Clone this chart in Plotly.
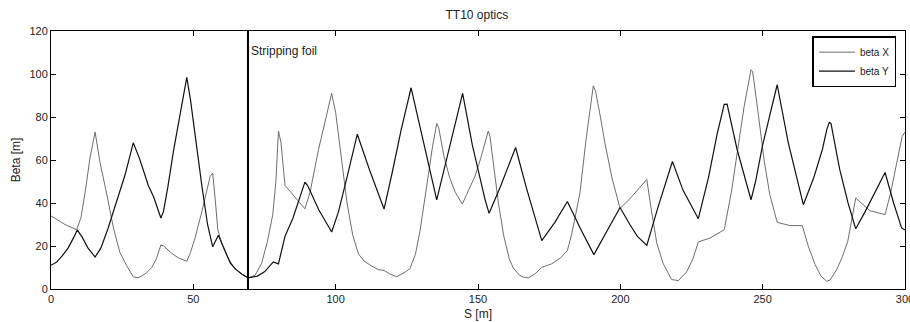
import plotly.graph_objects as go

# beta X (grey)
sx = [0, 2.5, 4.9, 9, 10.5, 12, 13.7, 15.5, 17.2, 19.6, 22, 24.2, 26.5, 28.9, 30.5, 31.9, 33.5, 35.4, 37, 38.6,
      39.6, 42, 44.7, 47.7, 49, 50.6, 53, 55.9, 56.8, 57.8, 58.6, 60, 62, 64, 66, 68, 69.5, 71.7, 74, 76,
      77.9, 79, 79.9, 80.8, 82.2, 89.2, 91, 94, 98.6, 100, 102, 104, 106, 108, 110, 112.7, 115, 117, 119, 121.4,
      124, 126.1, 128, 129.6, 132, 134, 135.5, 136.2, 138, 140, 142, 144.5, 146, 148.9, 151, 153.6, 154.2, 155.5, 157.1, 159,
      161, 162.4, 164.5, 166, 167.7, 170, 172.4, 175.9, 179, 181.4, 183, 185.8, 188, 190.5, 191.3, 193, 194.6, 197, 199.9, 203.4,
      206, 209.3, 210.5, 212.8, 215, 218, 220.4, 223.3, 225.5, 227.4, 231.5, 234, 236.5, 239, 241.4, 243.5, 245.9, 246.5, 248.5, 250.5,
      252.5, 254.3, 255.1, 259.6, 263.9, 266, 268.4, 270.5, 272.5, 273.7, 276, 278, 279.9, 282.7, 287.7, 293, 295, 297, 299, 300]
bx = [34, 32, 30, 27.6, 33, 45, 61, 73, 59, 44, 28, 17, 11, 5.7, 5.2, 6, 7.5, 10, 14, 20.5,
      20, 17, 14.5, 12.9, 17, 23.7, 36, 52.3, 53.9, 40, 27.6, 21, 15, 10.5, 8, 6, 5.2, 6.4, 12, 22,
      34.6, 50, 73.5, 68, 48.2, 37.3, 45, 65, 91, 82, 62, 40, 25, 16.3, 13, 10.6, 9, 8.6, 7, 5.7,
      7.5, 9.5, 16, 26.8, 48, 66, 77, 75, 62, 52, 45, 39.5, 44, 52.3, 61, 73.5, 71, 58, 40.7, 25,
      14, 9.8, 6.5, 5.5, 5.2, 7, 10.1, 11.7, 14.5, 17.9, 26, 44.6, 70, 94.5, 92, 80, 67.8, 52, 37.5, 42,
      46, 51, 40, 21.4, 12, 4.4, 3.9, 8, 14, 21.9, 23.7, 25.5, 27.6, 45, 66, 85, 102, 101, 81, 60,
      44, 34.6, 31, 29.5, 29.5, 20, 11.4, 6, 3.6, 4.2, 9, 15, 22.2, 42.3, 36.4, 34.6, 45, 58, 70.9, 73]

# beta Y (black)
sy = [0, 2, 4, 6, 8, 9.2, 11, 13, 15.5, 17.5, 20, 23, 26, 28.9, 31, 33, 34.2, 36, 38.6, 39.5,
      41, 43, 45.5, 47.7, 49, 51, 53, 55, 55.9, 56.8, 58.8, 61, 63, 65, 67, 69.3, 71, 72.5, 75, 78.1,
      79.9, 82.2, 85, 87, 89.2, 90.2, 94, 98.6, 101, 104, 107.6, 112, 117, 120, 123, 126.5, 131, 135.5, 140, 144.6,
      148, 152.5, 153.9, 158, 163.2, 167, 172.4, 177, 181.4, 186, 190.7, 195, 199.9, 203.4, 206, 209.3, 213, 218.3, 222, 227.4,
      231, 234, 236.5, 237.5, 241, 245.9, 247.5, 250, 255.1, 259, 264.3, 268, 271, 272.5, 273.4, 274, 277, 280, 282.7, 286,
      289.5, 293, 296, 298.8, 300]
by = [11, 12.5, 15.5, 19, 24, 27.5, 24, 19, 14.9, 19, 28, 40, 53, 68, 61, 53, 48, 43, 33, 36,
      47, 64, 83, 98.4, 88, 67, 48, 30, 24, 19.6, 25, 18, 12, 9, 7, 5.2, 5.5, 6, 8, 12.6,
      11.7, 24.5, 33, 41, 49.7, 48, 37, 26.5, 36, 52, 72, 55, 37.2, 55, 74, 93.6, 67, 41.5, 66, 91,
      67, 41.5, 35.2, 48, 65.8, 47, 22.5, 31, 40.7, 28, 16, 26, 37.9, 29.9, 24.5, 20.3, 37, 59.3, 46, 32.7,
      52, 72, 85.9, 86, 65, 41.5, 50, 67, 95, 68, 39.2, 52, 65, 74, 77.5, 77, 56, 40, 28, 36,
      45, 54.2, 40, 28.4, 27.5]

foil_s = [69.2]
foil_label = "Stripping foil"

font = "Liberation Sans, Arial, sans-serif"

fig = go.Figure()
fig.add_trace(go.Scatter(x=sx, y=bx, mode="lines", name="beta X",
                         line=dict(color="#6e6e6e", width=1)))
fig.add_trace(go.Scatter(x=sy, y=by, mode="lines", name="beta Y",
                         line=dict(color="#111111", width=1.2)))

for s in foil_s:
    fig.add_shape(type="line", x0=s, x1=s, y0=0, y1=1, xref="x", yref="paper",
                  line=dict(color="black", width=2))
    fig.add_annotation(x=s, y=110.6, xref="x", yref="y", text=foil_label,
                       showarrow=False, xanchor="left", yanchor="middle", xshift=1,
                       font=dict(family=font, size=12, color="#222"))

axis_common = dict(showgrid=False, zeroline=False, showline=True, linecolor="black",
                   linewidth=1, mirror="ticks", ticks="inside", ticklen=5, tickcolor="black",
                   ticklabeloverflow="allow",
                   tickfont=dict(family=font, size=11, color="#222"))

fig.update_layout(
    width=910, height=322,
    margin=dict(l=51, r=5, t=31, b=33),
    paper_bgcolor="white", plot_bgcolor="white",
    title=dict(text="TT10 optics", x=0.524, xanchor="center", y=0.953, yanchor="middle",
               font=dict(family=font, size=12, color="#222")),
    xaxis=dict(range=[0, 300], tickvals=[0, 50, 100, 150, 200, 250, 300],
               title=dict(text="S [m]", standoff=5, font=dict(family=font, size=12, color="#222")),
               automargin=False, **axis_common),
    yaxis=dict(range=[0, 120], tickvals=[0, 20, 40, 60, 80, 100, 120],
               title=dict(text="Beta [m]", standoff=6, font=dict(family=font, size=12, color="#222")),
               automargin=False, **axis_common),
    legend=dict(x=0.99, y=0.98, xanchor="right", yanchor="top",
                bordercolor="black", borderwidth=1.5, bgcolor="white",
                font=dict(family=font, size=10, color="#222"),
                tracegroupgap=0, itemwidth=36),
    showlegend=True,
)

fig.write_html("out.html", config={"displayModeBar": False},
               post_script="document.body.style.margin='0';document.body.style.padding='0';")
